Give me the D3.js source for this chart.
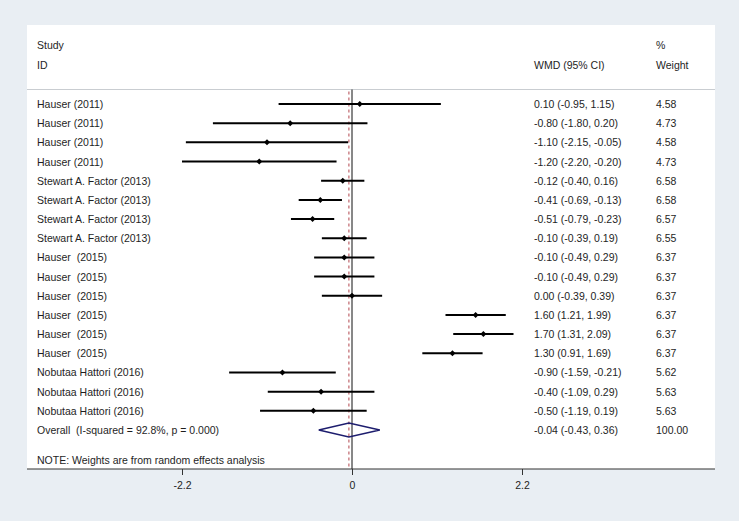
<!DOCTYPE html>
<html>
<head>
<meta charset="utf-8">
<script src="https://cdn.jsdelivr.net/npm/d3@7"></script>
<style>
  html, body { margin: 0; padding: 0; background: #e9eef3; }
  svg text { font-family: "Liberation Sans", Arial, sans-serif; font-size: 10.5px; fill: #1e1e1e; white-space: pre; }
</style>
</head>
<body>
<svg id="chart" width="739" height="521"></svg>
<script>
const studies = [
  "Hauser (2011)", "Hauser (2011)", "Hauser (2011)", "Hauser (2011)",
  "Stewart A. Factor (2013)", "Stewart A. Factor (2013)", "Stewart A. Factor (2013)", "Stewart A. Factor (2013)",
  "Hauser  (2015)", "Hauser  (2015)", "Hauser  (2015)", "Hauser  (2015)", "Hauser  (2015)", "Hauser  (2015)",
  "Nobutaa Hattori (2016)", "Nobutaa Hattori (2016)", "Nobutaa Hattori (2016)"
];
const estimates = [0.10, -0.80, -1.10, -1.20, -0.12, -0.41, -0.51, -0.10, -0.10, -0.10, 0.00, 1.60, 1.70, 1.30, -0.90, -0.40, -0.50];
const lower =     [-0.95, -1.80, -2.15, -2.20, -0.40, -0.69, -0.79, -0.39, -0.49, -0.49, -0.39, 1.21, 1.31, 0.91, -1.59, -1.09, -1.19];
const upper =     [1.15, 0.20, -0.05, -0.20, 0.16, -0.13, -0.23, 0.19, 0.29, 0.29, 0.39, 1.99, 2.09, 1.69, -0.21, 0.29, 0.19];
const weights =   [4.58, 4.73, 4.58, 4.73, 6.58, 6.58, 6.57, 6.55, 6.37, 6.37, 6.37, 6.37, 6.37, 6.37, 5.62, 5.63, 5.63];
const overallLabel = "Overall  (I-squared = 92.8%, p = 0.000)";
const overall = { est: -0.04, lo: -0.43, hi: 0.36, weight: 100.00 };
const xTicks = [-2.2, 0, 2.2];
const xTickLabels = ["-2.2", "0", "2.2"];
const noteText = "NOTE: Weights are from random effects analysis";

const svg = d3.select("#chart");

// panel
const panel = { left: 27, top: 25, right: 715, bottom: 469 };
svg.append("rect")
  .attr("x", panel.left).attr("y", panel.top)
  .attr("width", panel.right - panel.left).attr("height", panel.bottom - panel.top)
  .attr("fill", "#ffffff");

const x = d3.scaleLinear().domain([-2.2, 2.2]).range([182, 522]);
const nRows = studies.length + 1;
const y = d3.scalePoint().domain(d3.range(nRows)).range([104, 430]);

const fmt = v => v.toFixed(2);
const ciText = (e, l, h) => `${fmt(e)} (${fmt(l)}, ${fmt(h)})`;

const colText = 37, colCI = 534, colW = 656;
const sepY = 89.5;

// headers
svg.append("text").attr("x", colText).attr("y", 49).text("Study");
svg.append("text").attr("x", colText).attr("y", 69).text("ID");
svg.append("text").attr("x", colCI).attr("y", 69).text("WMD (95% CI)");
svg.append("text").attr("x", colW).attr("y", 49).text("%");
svg.append("text").attr("x", colW).attr("y", 69).text("Weight");

// header separator
svg.append("line")
  .attr("x1", panel.left).attr("x2", panel.right)
  .attr("y1", sepY).attr("y2", sepY)
  .attr("stroke", "#c9cdd1").attr("stroke-width", 1);

// reference lines
svg.append("line")
  .attr("x1", x(0)).attr("x2", x(0))
  .attr("y1", sepY).attr("y2", panel.bottom)
  .attr("stroke", "#111").attr("stroke-width", 1);
svg.append("line")
  .attr("x1", x(overall.est)).attr("x2", x(overall.est))
  .attr("y1", sepY + 2).attr("y2", panel.bottom)
  .attr("stroke", "#b2454d").attr("stroke-width", 1)
  .attr("stroke-dasharray", "3,3");

// study rows
const rows = svg.append("g");
studies.forEach((s, i) => {
  const yy = y(i);
  rows.append("text").attr("x", colText).attr("y", yy + 4).text(s);
  rows.append("line")
    .attr("x1", x(lower[i])).attr("x2", x(upper[i]))
    .attr("y1", yy).attr("y2", yy)
    .attr("stroke", "#000").attr("stroke-width", 2);
  const cx = x(estimates[i]);
  rows.append("path")
    .attr("d", `M${cx - 3},${yy} L${cx},${yy - 3} L${cx + 3},${yy} L${cx},${yy + 3} Z`)
    .attr("fill", "#000");
  rows.append("text").attr("x", colCI).attr("y", yy + 4).text(ciText(estimates[i], lower[i], upper[i]));
  rows.append("text").attr("x", colW).attr("y", yy + 4).text(fmt(weights[i]));
});

// overall
const yo = y(studies.length);
svg.append("text").attr("x", colText).attr("y", yo + 4).text(overallLabel);
svg.append("path")
  .attr("d", `M${x(overall.lo)},${yo} L${x(overall.est)},${yo - 7} L${x(overall.hi)},${yo} L${x(overall.est)},${yo + 7} Z`)
  .attr("fill", "none").attr("stroke", "#1d1d6e").attr("stroke-width", 1.5);
svg.append("text").attr("x", colCI).attr("y", yo + 4).text(ciText(overall.est, overall.lo, overall.hi));
svg.append("text").attr("x", colW).attr("y", yo + 4).text(fmt(overall.weight));

// note
svg.append("text").attr("x", colText).attr("y", 464).text(noteText);

// axis
svg.append("line")
  .attr("x1", panel.left).attr("x2", panel.right)
  .attr("y1", panel.bottom).attr("y2", panel.bottom)
  .attr("stroke", "#333").attr("stroke-width", 1.2);
const axis = d3.axisBottom(x).tickValues(xTicks).tickSize(6).tickPadding(7)
  .tickFormat((d, i) => xTickLabels[i]);
const ag = svg.append("g").attr("transform", `translate(0,${panel.bottom})`).call(axis);
ag.select(".domain").remove();
ag.selectAll(".tick line").attr("stroke", "#333");
ag.selectAll(".tick text").attr("font-family", null).attr("font-size", null).style("fill", "#1e1e1e");
</script>
</body>
</html>
